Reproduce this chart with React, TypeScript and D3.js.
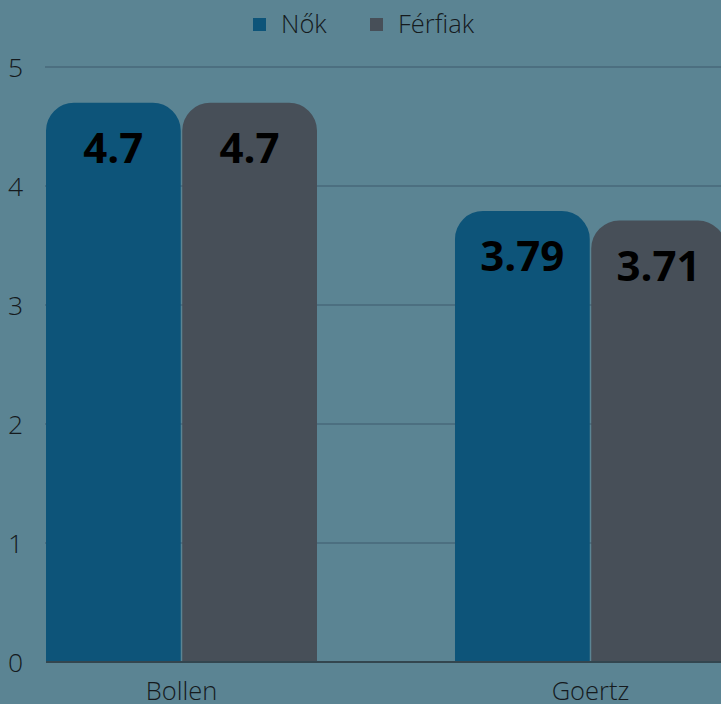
import React from 'react';
import * as d3 from 'd3';

const categories = ['Bollen', 'Goertz'];
const seriesNames = ['Nők', 'Férfiak'];
const seriesColors = ['#0d5479', '#474f58'];
const nokValues = [4.7, 3.79];
const ferfiakValues = [4.7, 3.71];
const valueLabels = [['4.7', '3.79'], ['4.7', '3.71']];
const yTicks = [0, 1, 2, 3, 4, 5];

const W = 721;
const H = 704;
const margin = { top: 67, left: 46, bottom: 42 };

// bar with rounded top corners
const barPath = (x: number, y: number, w: number, h: number, r: number) => {
  const rr = Math.min(r, w / 2, h);
  return `M${x},${y + h}V${y + rr}A${rr},${rr} 0 0 1 ${x + rr},${y}H${x + w - rr}A${rr},${rr} 0 0 1 ${x + w},${y + rr}V${y + h}Z`;
};

export default function App() {
  const innerBottom = H - margin.bottom;

  const y = d3.scaleLinear().domain([0, 5]).range([innerBottom, margin.top]);
  const x0 = d3.scaleBand().domain(categories).range([margin.left, 726]).paddingInner(0.3374).paddingOuter(0);
  const x1 = d3.scaleBand().domain(seriesNames).range([0, x0.bandwidth()]).paddingInner(0.011);

  const series = [nokValues, ferfiakValues];

  return (
    <svg width={W} height={H} style={{ position: 'absolute', left: 0, top: 0, display: 'block' }}
      fontFamily="'Open Sans', sans-serif">
      <rect x={0} y={0} width={W} height={H} fill="#5b8493" />

      {/* legend */}
      {seriesNames.map((s, i) => {
        const lx = [253, 370][i];
        return (
          <g key={s}>
            <rect x={lx} y={18} width={13} height={13} fill={seriesColors[i]} />
            <text x={lx + 28} y={33} fontSize={25.5} fontWeight={300} fill="#151a1d">{s}</text>
          </g>
        );
      })}

      {/* grid */}
      {yTicks.filter(t => t > 0).map(t => (
        <line key={t} x1={margin.left - 1} x2={W} y1={y(t)} y2={y(t)} stroke="#47697a" strokeWidth={1.5} />
      ))}
      {yTicks.map(t => (
        <text key={t} x={8} y={y(t)} dy="0.36em" fontSize={26.5} fontWeight={300} fill="#151a1d">{t}</text>
      ))}

      {/* bars */}
      {categories.map((c, ci) => (
        <g key={c} transform={`translate(${x0(c)},0)`}>
          {series.map((vals, si) => {
            const bx = x1(seriesNames[si]) as number;
            const by = y(vals[ci]);
            return (
              <g key={si}>
                <path d={barPath(bx, by, x1.bandwidth(), innerBottom - by, 28)} fill={seriesColors[si]} />
                <text x={bx + x1.bandwidth() / 2} y={by + 60} textAnchor="middle" fontSize={42}
                  fontWeight={700} fill="#000">{valueLabels[si][ci]}</text>
              </g>
            );
          })}
        </g>
      ))}

      <line x1={margin.left} x2={W} y1={innerBottom} y2={innerBottom} stroke="#33464f" strokeWidth={2} />

      {categories.map(c => (
        <text key={c} x={(x0(c) as number) + x0.bandwidth() / 2} y={700} textAnchor="middle"
          fontSize={25.5} fontWeight={300} fill="#151a1d">{c}</text>
      ))}
    </svg>
  );
}
